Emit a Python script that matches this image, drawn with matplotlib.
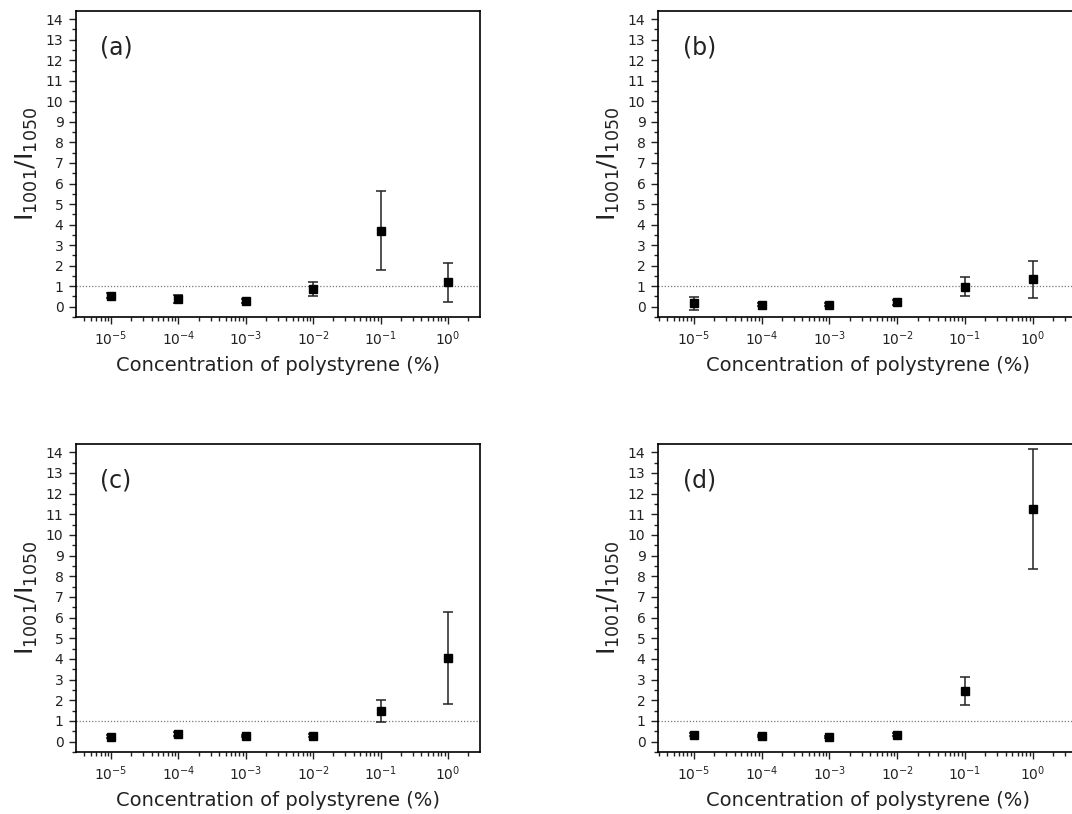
import numpy as np
import matplotlib
matplotlib.use("Agg")
import matplotlib.pyplot as plt
from matplotlib.ticker import MultipleLocator, FixedLocator, NullFormatter

plt.rcParams['font.family'] = ['DejaVu Sans']

# concentration of polystyrene (%)
conc = [1e-5, 1e-4, 1e-3, 1e-2, 1e-1, 1e0]
tick_labels = [r"10$^{-5}$", r"10$^{-4}$", r"10$^{-3}$", r"10$^{-2}$", r"10$^{-1}$", r"10$^{0}$"]

# ratio I1001/I1050 and error per panel
ratio_a = [0.54, 0.37, 0.28, 0.85, 3.70, 1.18]
err_a = [0.12, 0.20, 0.09, 0.35, 1.92, 0.95]

ratio_b = [0.16, 0.10, 0.10, 0.21, 0.97, 1.33]
err_b = [0.33, 0.08, 0.08, 0.12, 0.46, 0.89]

ratio_c = [0.24, 0.37, 0.28, 0.29, 1.48, 4.04]
err_c = [0.07, 0.10, 0.06, 0.07, 0.52, 2.22]

ratio_d = [0.34, 0.28, 0.24, 0.34, 2.46, 11.26]
err_d = [0.08, 0.06, 0.05, 0.08, 0.67, 2.89]

panel_labels = ["(a)", "(b)", "(c)", "(d)"]

fig = plt.figure(figsize=(10.72, 8.14), dpi=100)

# axes rectangles in figure fraction (left, bottom, width, height)
rects = [
    (76 / 1072, 1 - 317 / 814, 404 / 1072, 306 / 814),
    (658 / 1072, 1 - 317 / 814, 420 / 1072, 306 / 814),
    (76 / 1072, 1 - 752 / 814, 404 / 1072, 308 / 814),
    (658 / 1072, 1 - 752 / 814, 420 / 1072, 308 / 814),
]
xlims = [
    (10 ** -5.52, 10 ** 0.475),
    (10 ** -5.531, 10 ** 0.67),
    (10 ** -5.52, 10 ** 0.475),
    (10 ** -5.531, 10 ** 0.67),
]

# minor log ticks between the decades shown
minor_x = [m * 10.0 ** e for e in range(-6, 1) for m in range(2, 10)]

data = [(ratio_a, err_a), (ratio_b, err_b), (ratio_c, err_c), (ratio_d, err_d)]

for i, (vals, errs) in enumerate(data):
    ax = fig.add_axes(rects[i])
    ax.set_xscale("log")
    ax.axhline(1, color="#777777", linestyle=(0, (1, 1.5)), linewidth=0.9, zorder=1)
    ax.errorbar(conc, vals, yerr=errs, fmt="s", color="black", markersize=5.5,
                ecolor="#222222", elinewidth=1.1, capsize=3.5, capthick=1.1, zorder=3)
    ax.set_xlim(*xlims[i])
    ax.set_ylim(-0.5, 14.4)
    ax.yaxis.set_major_locator(MultipleLocator(1))
    ax.yaxis.set_minor_locator(MultipleLocator(0.5))
    ax.set_xticks(conc)
    ax.set_xticklabels(tick_labels)
    ax.xaxis.set_minor_locator(FixedLocator(minor_x))
    ax.xaxis.set_minor_formatter(NullFormatter())
    ax.tick_params(which="both", direction="out", top=False, right=False,
                   labelsize=10, width=1.0, colors="#222222")
    ax.tick_params(which="major", length=5, pad=4)
    ax.tick_params(which="minor", length=3)
    for s in ax.spines.values():
        s.set_linewidth(1.2)
    ax.set_xlabel("Concentration of polystyrene (%)", fontsize=14, labelpad=6, color="#222222")
    ax.set_ylabel(r"I$_{1001}$/I$_{1050}$", fontsize=18, labelpad=4, color="#222222")
    ax.text(0.06, 0.88, panel_labels[i], transform=ax.transAxes, fontsize=17,
            va="center", ha="left", color="#222222")

fig.savefig("out.png", dpi=100)
